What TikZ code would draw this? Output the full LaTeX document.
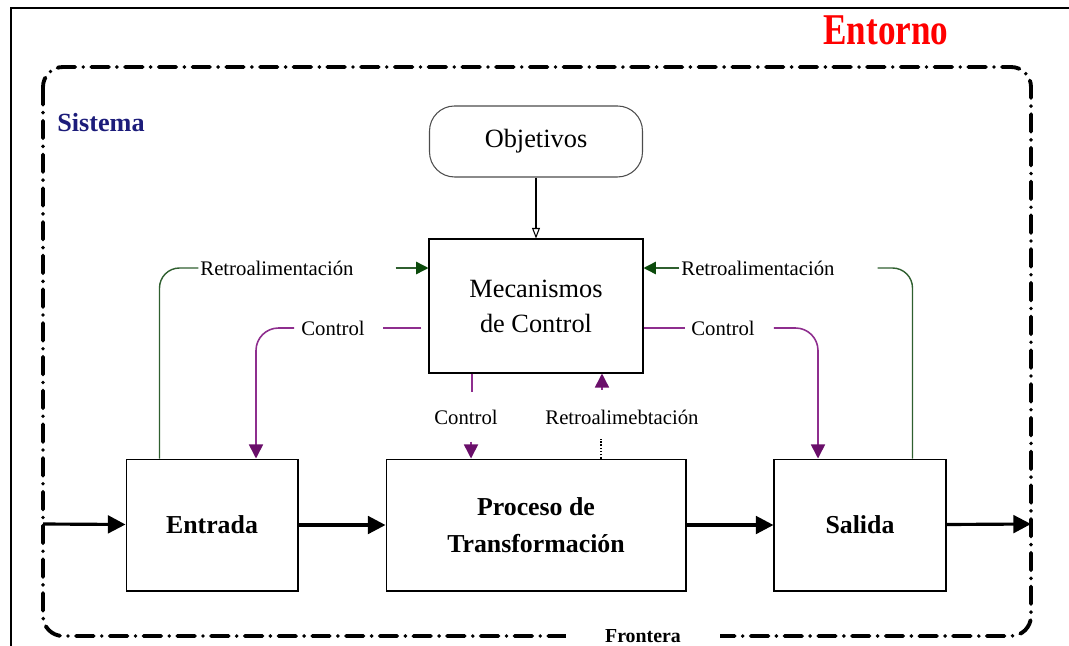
\documentclass[tikz,border=0pt]{standalone}
\usepackage{fontspec}
\setmainfont{Liberation Serif}
\usepackage{graphicx}
\usepackage{xcolor}
\definecolor{EnvRed}{HTML}{FF0000}
\definecolor{SysNavy}{HTML}{1C1C7A}
\definecolor{FeedGreen}{HTML}{2F5F2F}
\definecolor{FeedGreenTip}{HTML}{0B4A0B}
\definecolor{CtrlPurple}{HTML}{8E2E8E}
\definecolor{CtrlPurpleTip}{HTML}{6A0F6A}
\usetikzlibrary{arrows.meta, positioning}
\tikzset{
  % Box styles
  sysbox/.style={rectangle, draw=black, line width=0.6pt, minimum width=3.44cm, minimum height=2.64cm, inner sep=0pt, align=center, font=\fontsize{14.7}{21}\selectfont\bfseries},
  ctrlbox/.style={rectangle, draw=black, line width=0.6pt, minimum width=4.28cm, minimum height=2.68cm, inner sep=0pt, align=center, font=\fontsize{15}{20}\selectfont},
  goalbox/.style={rectangle, rounded corners=0.5cm, draw=black!70, line width=0.6pt, minimum width=4.26cm, minimum height=1.42cm, inner sep=0pt, font=\fontsize{15}{18}\selectfont},
  % Label styles
  flowlabel/.style={inner sep=1pt, font=\fontsize{11.8}{14}\selectfont},
  % Line styles
  boundary/.style={line width=2.2pt, line cap=round, dash pattern=on 10pt off 4.6pt on 0pt off 4.6pt, rounded corners=0.4cm},
  thickarrow/.style={-{Triangle[length=10pt, width=10pt]}, line width=1.8pt},
  thinarrow/.style={-{Triangle[open, length=6pt, width=4.5pt]}, line width=0.6pt},
  greenline/.style={FeedGreen, line width=0.8pt, rounded corners=0.4cm},
  greenarrow/.style={-{Triangle[length=7pt, width=7pt, color=FeedGreenTip]}, FeedGreen, line width=0.8pt},
  purpleline/.style={CtrlPurple, line width=0.9pt, rounded corners=0.45cm},
  purplearrow/.style={-{Triangle[length=8pt, width=8pt, color=CtrlPurpleTip]}, CtrlPurple, line width=0.9pt, rounded corners=0.45cm}
}

\begin{document}
\begin{tikzpicture}[x=0.02cm, y=-0.02cm]
  \useasboundingbox (0,0) rectangle (1069,646);
  % Frame and system boundary
  \draw[line width=1.1pt] (11,646) |- (1069,8);
  \draw[boundary] (43,67) rectangle (1031,636);
  \node[font=\fontsize{20}{24}\selectfont\bfseries, text=EnvRed] (entorno) at (886,30) {\scalebox{1}[1.25]{Entorno}};
  \node[font=\fontsize{14.9}{18}\selectfont\bfseries, text=SysNavy] (sistema) at (101,123) {Sistema};
  \node[fill=white, inner xsep=22pt, inner ysep=1pt, font=\fontsize{11.3}{14}\selectfont\bfseries] (frontera) at (643,636) {Frontera};

  % Boxes
  \node[ctrlbox] (mec) at (536,306) {Mecanismos\\de Control};
  \node[goalbox, above=1.22cm of mec] (goal) {Objetivos};
  \node[sysbox, minimum width=6cm, below=1.7cm of mec] (proc) {Proceso de\\Transformación};
  \node[sysbox, left=1.74cm of proc] (entrada) {Entrada};
  \node[sysbox, right=1.74cm of proc] (salida) {Salida};

  % Labels
  \node[flowlabel] (retroL) at (277,268) {Retroalimentación};
  \node[flowlabel] (retroR) at (758,268) {Retroalimentación};
  \node[flowlabel] (ctrlL) at (333,328) {Control};
  \node[flowlabel] (ctrlR) at (723,328) {Control};
  \node[flowlabel] (ctrlM) at (466,417) {Control};
  \node[flowlabel] (retroM) at (622,417) {Retroalimebtación};

  % Main flow
  \coordinate (inL) at (43,524);
  \coordinate (outR) at (1031,524);
  \draw[thickarrow] (inL) -- (entrada);
  \draw[thickarrow] (entrada) -- (proc);
  \draw[thickarrow] (proc) -- (salida);
  \draw[thickarrow] (salida) -- (outR);
  \draw[thinarrow] (goal) -- (mec);

  % Feedback
  \draw[greenline] ([xshift=0.68cm]entrada.north west) |- (retroL.west);
  \draw[greenarrow] ([xshift=0.8cm]retroL.east) -- (retroL.east -| mec.west);
  \draw[greenarrow] (retroR.west) -- (retroR.west -| mec.east);
  \draw[greenline] ([xshift=-0.68cm]salida.north east) |- ([xshift=0.82cm]retroR.east);

  % Control
  \draw[purpleline] ([xshift=-0.14cm]ctrlL.east -| mec.west) -- ([xshift=0.32cm]ctrlL.east);
  \draw[purplearrow] ([xshift=-0.1cm]ctrlL.west) -| ([xshift=0.88cm]entrada.north);
  \draw[purpleline] (ctrlR.west -| mec.east) -- ([xshift=-0.08cm]ctrlR.west);
  \draw[purplearrow] ([xshift=0.34cm]ctrlR.east) -| ([xshift=-0.84cm]salida.north);
  \draw[purpleline] ([xshift=-1.28cm]mec.south) -- ([xshift=-1.28cm, yshift=-0.36cm]mec.south);
  \draw[purplearrow] ([xshift=-1.3cm, yshift=0.34cm]proc.north) -- ([xshift=-1.3cm]proc.north);
  \draw[purplearrow] ([xshift=1.32cm, yshift=-0.32cm]mec.south) -- ([xshift=1.32cm]mec.south);
  \draw[line width=0.8pt, densely dotted] ([xshift=1.3cm]proc.north) -- ([xshift=1.3cm, yshift=0.4cm]proc.north);
\end{tikzpicture}
\end{document}
